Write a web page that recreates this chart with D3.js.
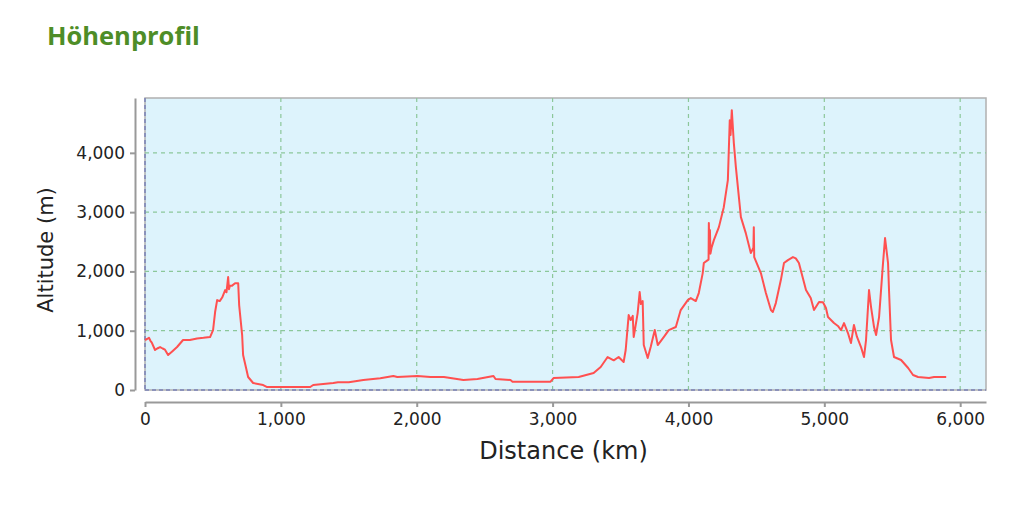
<!DOCTYPE html>
<html><head><meta charset="utf-8">
<script src="https://cdn.jsdelivr.net/npm/d3@7"></script>
<style>body{margin:0;background:#fff;}svg{display:block;}</style>
</head><body>
<svg id="c" width="1020" height="514"></svg>
<script>
const title = "Höhenprofil";
const xLabel = "Distance (km)";
const yLabel = "Altitude (m)";
const xTicks = [0, 1000, 2000, 3000, 4000, 5000, 6000];
const yTicks = [0, 1000, 2000, 3000, 4000];
const distanceKm = [
  0, 15, 29, 40, 50, 74, 90, 111, 130, 147, 170, 200, 236, 280, 330, 383, 430, 479,
  501, 516, 531, 550, 568, 590, 600, 612, 618, 625, 641, 663, 686, 693, 715, 722, 744, 759, 796, 870, 899,
  1216, 1238, 1386, 1420, 1500, 1607, 1732, 1828, 1857, 2005, 2101, 2200, 2344, 2447, 2565, 2580, 2690, 2705, 2985, 3007,
  3192, 3302, 3354, 3405, 3450, 3486, 3523, 3538, 3560, 3575, 3590, 3597, 3626, 3641, 3650, 3663, 3671, 3700, 3722, 3752, 3774,
  3818, 3855, 3907, 3943, 3995, 4017, 4054, 4076, 4105, 4113, 4142, 4148, 4150, 4155, 4158, 4162, 4170, 4187, 4224, 4260, 4290,
  4304, 4310, 4319, 4334, 4349, 4386, 4422, 4459, 4478, 4481, 4484, 4533, 4570, 4607, 4621, 4643, 4680, 4703, 4732, 4769,
  4790, 4813, 4865, 4900, 4924, 4961, 4990, 5012, 5027, 5071, 5100, 5123, 5145, 5174, 5196, 5218, 5240, 5270, 5292, 5307,
  5329, 5344, 5366, 5381, 5403, 5432, 5447, 5469, 5477, 5491, 5513, 5565, 5617, 5653, 5690, 5771, 5808, 5897
];
const altitudeM = [
  843, 860, 880, 830, 800, 675, 700, 725, 700, 680, 590, 650, 725, 843, 843, 870, 880, 893,
  1011, 1315, 1517, 1500, 1560, 1685, 1650, 1905, 1700, 1760, 1760, 1800, 1800, 1433, 927, 590, 371, 219, 118, 84, 50,
  50, 84, 118, 130, 130, 168, 200, 236, 219, 236, 219, 220, 168, 185, 236, 185, 168, 140, 140, 202,
  219, 286, 388, 556, 500, 556, 472, 674, 1264, 1180, 1250, 893, 1298, 1652, 1450, 1500, 758, 540, 725, 1011, 758,
  893, 1011, 1062, 1348, 1517, 1550, 1500, 1635, 1972, 2141, 2191, 2200, 2815, 2350, 2700, 2300, 2400, 2528, 2747, 3084, 3540,
  4551, 4300, 4720, 4163, 3759, 2916, 2646, 2309, 2400, 2747, 2242, 1972, 1635, 1348, 1315, 1466, 1854, 2141, 2191, 2242,
  2220, 2141, 1685, 1550, 1348, 1483, 1480, 1382, 1230, 1129, 1080, 1011, 1129, 961, 792, 1096, 900, 725, 556, 843,
  1685, 1399, 1062, 927, 1230, 2141, 2562, 2141, 1635, 843, 556, 506, 371, 253, 219, 202, 219, 219
];

const W = 1020, H = 514;
const pl = 145, pr = 986, pt = 98, pb = 390;
const svg = d3.select("#c");

const x = d3.scaleLinear().domain([0, 6190]).range([pl, pr]);
const y = d3.scaleLinear().domain([0, 4925]).range([pb, pt]);

svg.append("text").attr("x", 47).attr("y", 45).text(title)
  .attr("font-family", "Open Sans, Noto Sans, sans-serif").attr("font-weight", "bold")
  .attr("font-size", 25.5).attr("fill", "#4e8d27");

svg.append("rect").attr("x", pl).attr("y", pt).attr("width", pr - pl).attr("height", pb - pt)
  .attr("fill", "#ddf3fc").attr("stroke", "#b0b0b0").attr("stroke-width", 1.5);

const grid = svg.append("g").attr("stroke", "#8cc79a").attr("stroke-width", 1.2).attr("stroke-dasharray", "4,4");
xTicks.filter(t => t > 0).forEach(t => grid.append("line").attr("x1", x(t)).attr("x2", x(t)).attr("y1", pt).attr("y2", pb));
yTicks.filter(t => t > 0).forEach(t => grid.append("line").attr("x1", pl).attr("x2", pr).attr("y1", y(t)).attr("y2", y(t)));

const zl = svg.append("g").attr("stroke", "#7b83b8").attr("stroke-width", 1.5).attr("stroke-dasharray", "4,3");
zl.append("line").attr("x1", x(0)).attr("x2", x(0)).attr("y1", pt).attr("y2", pb);
zl.append("line").attr("x1", pl).attr("x2", pr).attr("y1", y(0)).attr("y2", y(0));

const data = distanceKm.map((d, i) => [d, altitudeM[i]]);
svg.append("path").datum(data)
  .attr("fill", "none").attr("stroke", "#ff5050").attr("stroke-width", 2).attr("stroke-linejoin", "round")
  .attr("d", d3.line().x(d => x(d[0])).y(d => y(d[1])));

const fmt = d3.format(",");
const yAxis = d3.axisLeft(y).tickValues(yTicks).tickFormat(fmt).tickSize(5).tickSizeOuter(0).tickPadding(5);
const gy = svg.append("g").attr("transform", "translate(135,0)").call(yAxis);
const xAxis = d3.axisBottom(x).tickValues(xTicks).tickFormat(fmt).tickSize(5).tickSizeOuter(0).tickPadding(6);
const gx = svg.append("g").attr("transform", "translate(0,402)").call(xAxis);
[gx, gy].forEach(g => {
  g.select(".domain").attr("stroke", "#999").attr("stroke-width", 2);
  g.selectAll(".tick line").attr("stroke", "#999").attr("stroke-width", 2);
  g.selectAll("text").attr("font-family", "DejaVu Sans, sans-serif").attr("font-size", 17).attr("fill", "#222");
});

svg.append("text").attr("x", (pl + pr) / 2 - 2).attr("y", 459).attr("text-anchor", "middle")
  .attr("font-family", "DejaVu Sans, sans-serif").attr("font-size", 24).attr("fill", "#222").text(xLabel);
svg.append("text").attr("transform", `translate(53,250) rotate(-90)`).attr("text-anchor", "middle")
  .attr("font-family", "DejaVu Sans, sans-serif").attr("font-size", 21).attr("fill", "#222").text(yLabel);
</script>
</body></html>
